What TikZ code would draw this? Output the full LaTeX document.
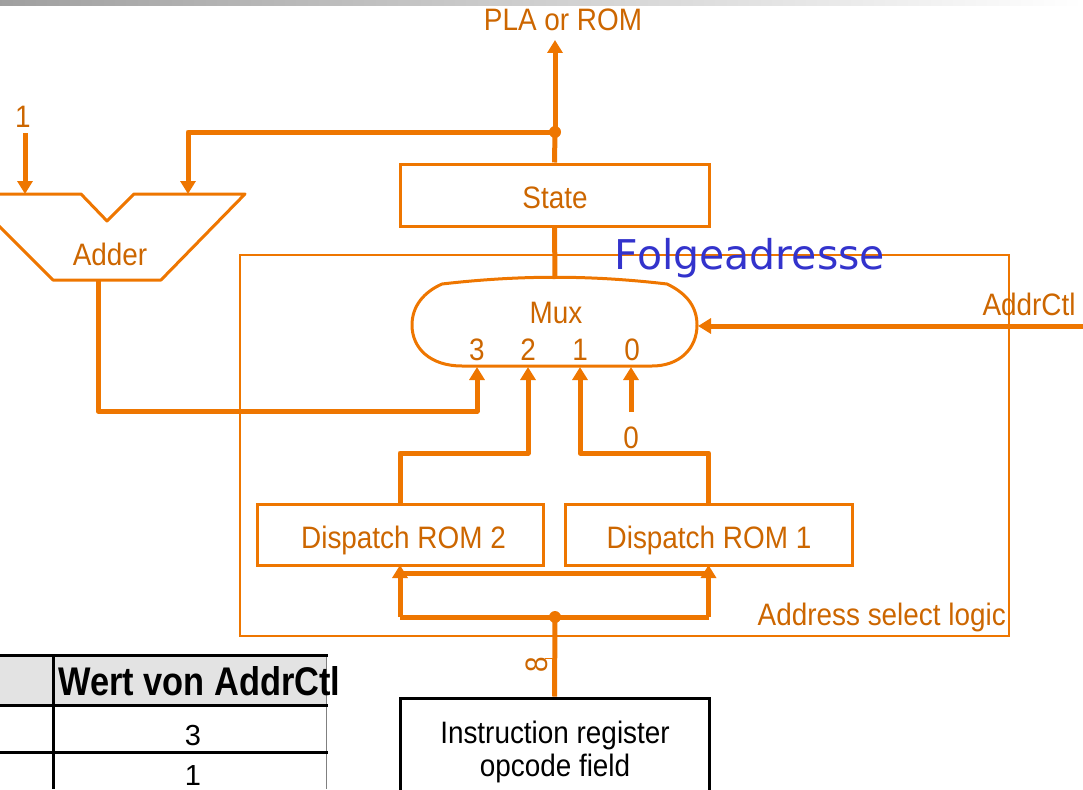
\documentclass[tikz,border=0pt]{standalone}
\usepackage{fontspec}
\usepackage{graphicx}
\setmainfont{Liberation Sans}
\newfontfamily\dejavu{DejaVu Sans}
\usetikzlibrary{arrows.meta}
\definecolor{orng}{RGB}{238,118,0}
\definecolor{otxt}{RGB}{204,102,0}
\definecolor{fblue}{RGB}{51,51,204}
\newcommand\sq[1]{\scalebox{0.9}[1]{#1}}
\begin{document}
\begin{tikzpicture}[x=1pt,y=-1pt,
  wire/.style={draw=orng,line width=5pt,line join=round},
  arr/.style={-{Triangle[length=13pt,width=15pt]}},
  obox/.style={draw=orng,line width=3pt,inner sep=0pt},
  lbl/.style={text=otxt,inner sep=0pt,font=\fontsize{31}{33}\selectfont},
  blk/.style={text=black,inner sep=0pt,font=\fontsize{31}{33}\selectfont},
  cell/.style={text=black,inner sep=0pt,font=\fontsize{29}{31}\selectfont},
  dot/.style={fill=orng}]
\useasboundingbox (0,0) rectangle (1083,789);
\clip (0,0) rectangle (1083,789);

% header strip
\shade[left color=gray!75,right color=white] (0,0) rectangle (1083,6);

% --- blocks ---
\node[obox,minimum width=309pt,minimum height=62pt] (state) at (554.5,195) {};
\node[lbl,anchor=base] (statelbl) at (555,208) {\sq{State}};

\node[obox,minimum width=286pt,minimum height=61pt] (rom2) at (400,535) {};
\node[lbl,anchor=base] (rom2lbl) at (403.5,548) {\sq{Dispatch ROM 2}};
\node[obox,minimum width=287pt,minimum height=61pt] (rom1) at (708.5,535) {};
\node[lbl,anchor=base] (rom1lbl) at (709,548) {\sq{Dispatch ROM 1}};

\node[draw=black,line width=3pt,inner sep=0pt,minimum width=309pt,minimum height=140pt] (ir) at (554.5,768) {};
\node[blk,anchor=base] (irlbl1) at (555,743) {\sq{Instruction register}};
\node[blk,anchor=base] (irlbl2) at (555,776) {\sq{opcode field}};

% address select logic frame
\node[draw=orng,line width=1.5pt,inner sep=0pt,minimum width=769pt,minimum height=381pt] (asl) at (624.5,445.5) {};
\node[text=fblue,inner sep=0pt,anchor=base,font=\dejavu\fontsize{41}{44}\selectfont] (folge) at (750,269) {Folgeadresse};
\node[lbl,anchor=base east] (asllbl) at (1006,625) {\sq{Address select logic}};

% adder
\draw[orng,line width=3pt,line join=round]
  (-33,194) -- (81,194) -- (107,221) -- (134,194) -- (245,194) -- (161,280) -- (53,280) -- cycle;
\node[lbl,anchor=base] (adderlbl) at (110,265) {\sq{Adder}};
\coordinate (adin1) at (25,194);
\coordinate (adin2) at (188,194);
\coordinate (adout) at (98,280);

% multiplexer
\draw[orng,line width=3pt,line join=round]
  (442,284) .. controls (520,275) and (590,275) .. (667,284)
  .. controls (688,294) and (697,308) .. (697,325)
  .. controls (697,348) and (680,366) .. (652,366)
  -- (462,366)
  .. controls (430,366) and (412,348) .. (412,325)
  .. controls (412,306) and (424,292) .. (442,284);
\node[lbl,anchor=base] (muxlbl) at (556,323) {\sq{Mux}};
\node[lbl,anchor=base] (m3) at (477,360) {\sq{3}};
\node[lbl,anchor=base] (m2) at (528,360) {\sq{2}};
\node[lbl,anchor=base] (m1) at (580,360) {\sq{1}};
\node[lbl,anchor=base] (m0) at (632,360) {\sq{0}};
\coordinate (muxtop) at (555,279);
\coordinate (muxr) at (698,326);
\coordinate (in3) at (477,367);
\coordinate (in2) at (528,367);
\coordinate (in1) at (580,367);
\coordinate (in0) at (631,367);

% --- labels of free ends ---
\node[lbl,anchor=base] (pla) at (563,31) {\sq{PLA or ROM}};
\coordinate (plaend) at (555,40);
\node[lbl,anchor=base] (one) at (23,128) {\sq{1}};
\coordinate (onestart) at (25,133);
\node[lbl,anchor=base] (ctllbl) at (1029,315) {\sq{AddrCtl}};
\coordinate (ctl) at (1090,326);
\node[lbl,anchor=base] (zero) at (631,448) {\sq{0}};
\coordinate (zstart) at (631,412);

% --- wires ---
\coordinate (jtop) at (555,132);
\draw[wire,arr] (jtop) -- (plaend);
\draw[wire] (state.north) -- (jtop);
\draw[wire,arr] (jtop) -| (adin2);
\fill[dot] (jtop) circle (6pt);
\draw[wire,arr] (onestart) -- (adin1);
\draw[wire] (state.south) -- (muxtop);

\coordinate (c3) at (477,411);
\draw[wire,arr] (adout) |- (c3) -- (in3);
\coordinate (c2) at (528,453);
\draw[wire,arr] (rom2.north) |- (c2) -- (in2);
\coordinate (c1) at (580,453);
\draw[wire,arr] (rom1.north) |- (c1) -- (in1);
\draw[wire,arr] (zstart) -- (in0);
\draw[wire,arr] (ctl) -- (muxr);

% opcode bus
\coordinate (jbus) at (555,617);
\coordinate (bl) at (400,617);
\coordinate (br) at (708.5,617);
\coordinate (bl2) at (400,573);
\coordinate (br2) at (708.5,573);
\draw[wire] (bl) -- (br);
\draw[wire] (bl2) -- (br2);
\draw[wire,arr] (bl) -- ([yshift=2pt]rom2.south);
\draw[wire,arr] (br) -- ([yshift=2pt]rom1.south);
\draw[wire] (ir.north) -- (jbus);
\fill[dot] (jbus) circle (6pt);
\node[lbl,rotate=90] (width8) at (537,665) {\sq{8}};
\draw[orng,line width=1pt] (545,658) -- (554,658);

% --- table ---
\fill[black!11] (0,655) rectangle (326,705);
\draw[gray,line width=1pt] (326,655) -- (326,789);
\draw[black,line width=3pt] (0,655) -- (328,655);
\draw[black,line width=3pt] (0,705) -- (328,705);
\draw[black,line width=3pt] (0,752) -- (328,752);
\draw[black,line width=3pt] (53,655) -- (53,789);
\node[anchor=base west,inner sep=0pt] (thead) at (58,695)
  {\scalebox{0.86}[1]{\fontsize{40}{44}\selectfont\bfseries Wert von AddrCtl}};
\node[cell,anchor=base] (tr1) at (193,745) {3};
\node[cell,anchor=base] (tr2) at (193,785) {1};
\end{tikzpicture}
\end{document}
